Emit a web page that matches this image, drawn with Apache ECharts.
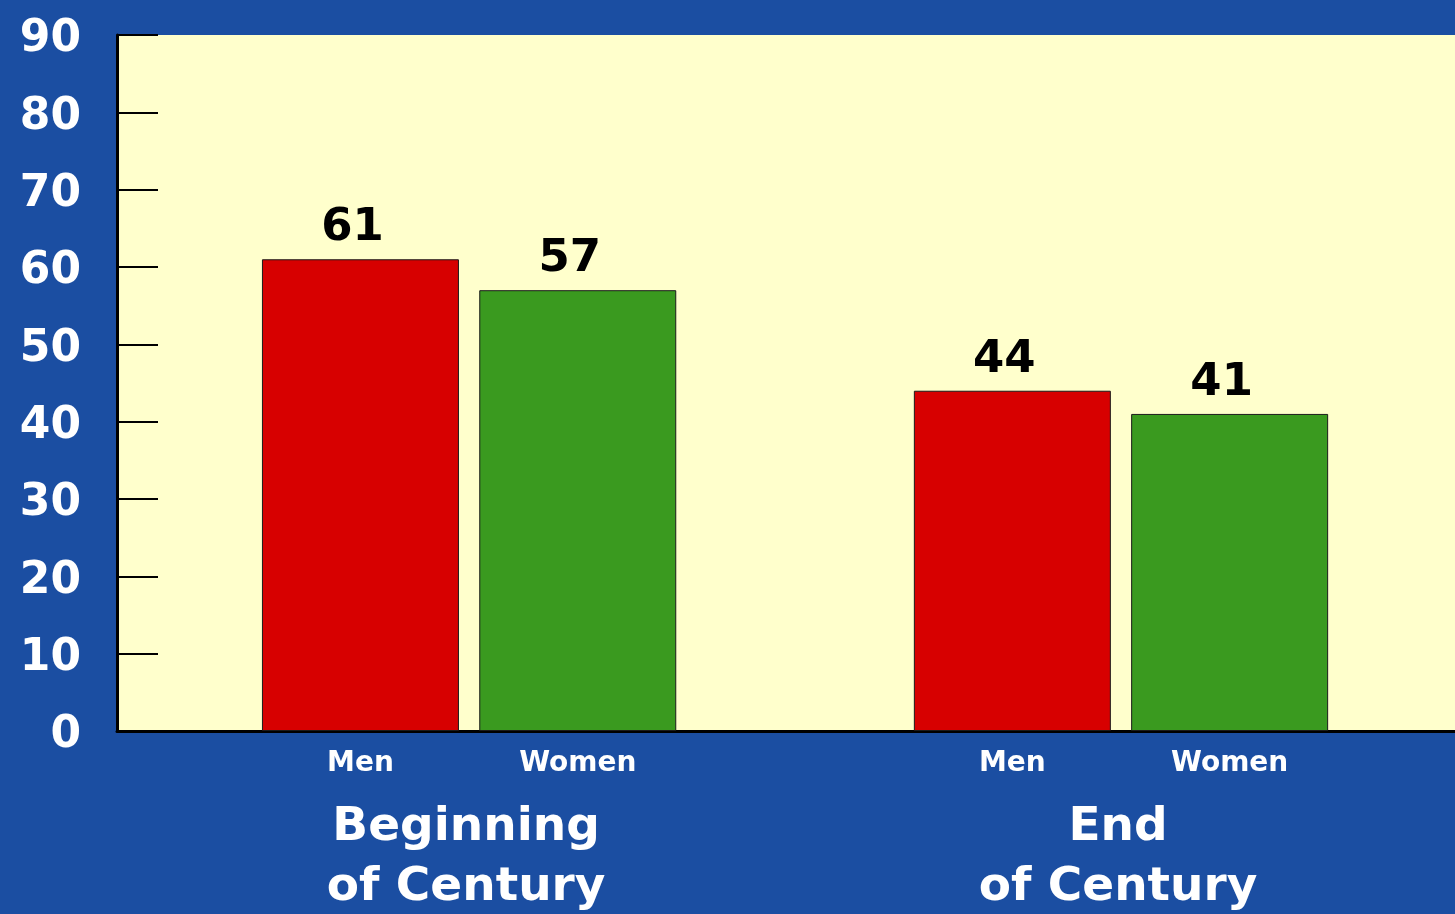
<!DOCTYPE html>
<html>
<head>
<meta charset="utf-8">
<script src="https://cdn.jsdelivr.net/npm/echarts@6/dist/echarts.min.js"></script>
<style>
  html, body { margin: 0; padding: 0; background: #1b4ea2; }
  #chart { width: 1455px; height: 914px; }
</style>
</head>
<body>
<div id="chart"></div>
<script>
// Values shown above each bar
const groups = ['Beginning\nof Century', 'End\nof Century'];
const genders = ['Men', 'Women'];
const menValues = [61, 44];
const womenValues = [57, 41];
const yTicks = [0, 10, 20, 30, 40, 50, 60, 70, 80, 90];

const FONT = 'DejaVu Sans';
const BLUE = '#1b4ea2';
const RED = '#d70000';
const GREEN = '#3a9a1f';

// Category slots: Men, Women, (gap), Men, Women
const slots = [];
const slotValues = [];
const slotColors = [];
groups.forEach((g, gi) => {
  if (gi > 0) { slots.push(''); slotValues.push('-'); slotColors.push(null); }
  slots.push(genders[0]); slotValues.push(menValues[gi]); slotColors.push(RED);
  slots.push(genders[1]); slotValues.push(womenValues[gi]); slotColors.push(GREEN);
});

const chart = echarts.init(document.getElementById('chart'));

const option = {
  backgroundColor: BLUE,
  animation: false,
  grid: [
    { left: 117, top: 35, right: 0, bottom: 183, show: true, backgroundColor: '#ffffcc', borderWidth: 0 },
    { left: 251.8, top: 35, width: 1086.5, bottom: 183 }
  ],
  xAxis: [
    {
      gridIndex: 0, type: 'category', data: [''],
      axisLine: { show: true, lineStyle: { color: '#000', width: 3 } },
      axisTick: { show: false }, axisLabel: { show: false }, splitLine: { show: false }
    },
    {
      gridIndex: 1, type: 'category', data: slots,
      axisLine: { show: false }, axisTick: { show: false }, splitLine: { show: false },
      axisLabel: {
        color: '#fff', fontFamily: FONT, fontWeight: 'bold', fontSize: 28, margin: 19
      }
    }
  ],
  yAxis: [
    {
      gridIndex: 0, type: 'value', min: yTicks[0], max: yTicks[yTicks.length - 1], interval: 10,
      axisLine: { show: true, lineStyle: { color: '#000', width: 3 } },
      axisTick: { show: true, inside: true, length: 41, lineStyle: { color: '#000', width: 2 } },
      splitLine: { show: false },
      axisLabel: {
        margin: 36,
        formatter: '{v|{value}}',
        rich: {
          v: {
            color: '#fff', fontFamily: FONT, fontWeight: 'bold', fontSize: 44,
            lineHeight: 44, padding: [10, 0, 0, 0]
          }
        }
      }
    },
    {
      gridIndex: 1, type: 'value', min: yTicks[0], max: yTicks[yTicks.length - 1], interval: 10,
      show: false
    }
  ],
  series: [
    {
      type: 'bar', xAxisIndex: 1, yAxisIndex: 1,
      barWidth: 197,
      data: slotValues.map((v, i) => ({
        value: v,
        itemStyle: { color: slotColors[i] || 'transparent', borderColor: '#1a1a1a', borderWidth: 1 }
      })),
      label: {
        show: true, position: 'top', distance: 8, offset: [-8, 0],
        color: '#000', fontFamily: FONT, fontWeight: 'bold', fontSize: 45
      }
    }
  ]
};

chart.setOption(option);

// Group captions centred under each Men/Women pair
const captions = [];
let slotIndex = 0;
groups.forEach((g, gi) => {
  if (gi > 0) slotIndex++;
  const pa = chart.convertToPixel({ gridIndex: 1 }, [slotIndex, 0]);
  const pb = chart.convertToPixel({ gridIndex: 1 }, [slotIndex + 1, 0]);
  const cx = (pa[0] + pb[0]) / 2;
  g.split('\n').forEach((line, li) => {
    captions.push({
      type: 'text', x: cx - 3, y: 828 + li * 60,
      style: {
        text: line, fill: '#fff', font: 'bold 47px "' + FONT + '"',
        textAlign: 'center', textVerticalAlign: 'middle'
      }
    });
  });
  slotIndex += 2;
});
chart.setOption({ graphic: captions });
</script>
</body>
</html>
